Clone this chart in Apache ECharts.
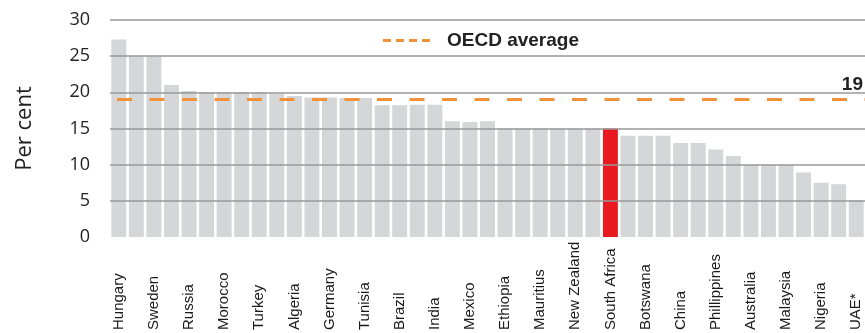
<!DOCTYPE html>
<html>
<head>
    <meta charset="UTF-8">
    <title>Per cent by country</title>
    <style>
        html, body { margin: 0; padding: 0; background: #fff; }
        #box { width: 865px; height: 333px; }
    </style>
    <script src="https://cdn.jsdelivr.net/npm/echarts@6/dist/echarts.min.js"></script>
</head>
<body>
<div id="box"></div>
<script>
    // categories: only every other bar is labelled in the source
    var countries = ['Hungary', '', 'Sweden', '', 'Russia', '', 'Morocco', '', 'Turkey', '', 'Algeria', '',
        'Germany', '', 'Tunisia', '', 'Brazil', '', 'India', '', 'Mexico', '', 'Ethiopia', '', 'Mauritius', '',
        'New Zealand', '', 'South Africa', '', 'Botswana', '', 'China', '', 'Phillippines', '', 'Australia', '',
        'Malaysia', '', 'Nigeria', '', 'UAE*'];
    var values = [27.3, 25, 25, 21, 20.2, 20, 20, 20, 20, 19.8, 19.5, 19.3,
        19.3, 19.2, 19.2, 18.2, 18.2, 18.3, 18.3, 16, 15.9, 16, 15, 15, 15, 15,
        15, 15, 15, 14, 14, 14, 13, 13, 12.1, 11.2, 10, 10,
        10, 8.9, 7.5, 7.3, 5.1];
    var highlight = 'South Africa';
    var oecdAverage = 19;
    var yTicks = [0, 5, 10, 15, 20, 25, 30];

    var barData = values.map(function (v, i) {
        return {
            value: v,
            itemStyle: { color: countries[i] === highlight ? '#E8191F' : '#D5D6D8' }
        };
    });

    var myChart = echarts.init(document.getElementById('box'));
    var option = {
        backgroundColor: '#fff',
        animation: false,
        grid: {
            left: 110,
            right: -6,   // last bar is cut at the edge
            top: 20,
            bottom: 94
        },
        legend: {
            left: 378,
            top: 26,
            itemWidth: 47,
            itemHeight: 3,
            data: [{
                name: 'OECD average',
                // four short dashes like the source key
                icon: 'path://M0,0h8v3h-8z M13,0h8v3h-8z M26,0h8v3h-8z M39,0h8v3h-8z'
            }],
            itemStyle: { color: '#F0923C' },
            textStyle: {
                fontFamily: 'Liberation Sans',
                fontSize: 19,
                fontWeight: 'bold',
                color: '#222',
                padding: [0, 0, 0, 12]
            }
        },
        xAxis: {
            type: 'category',
            data: countries,
            axisLine: { show: false },
            axisTick: { show: false },
            axisLabel: {
                interval: 0,
                rotate: 90,
                align: 'left',
                verticalAlign: 'middle',
                margin: 93,
                hideOverlap: false,
                fontFamily: 'Liberation Sans',
                fontSize: 15,
                color: '#1a1a1a'
            }
        },
        yAxis: {
            type: 'value',
            min: yTicks[0],
            max: yTicks[yTicks.length - 1],
            interval: 5,
            z: 5,   // grid lines sit on top of the bars
            name: 'Per cent',
            nameLocation: 'middle',
            nameGap: 74,
            nameTextStyle: { fontFamily: 'Open Sans', fontSize: 22, color: '#222' },
            axisLine: { show: false },
            axisTick: { show: false },
            axisLabel: {
                margin: 20,
                fontFamily: 'Open Sans',
                fontSize: 18,
                color: '#222'
            },
            splitLine: {
                showMinLine: false,
                lineStyle: { color: '#999', width: 1.5 }
            }
        },
        series: [
            {
                name: 'Per cent',
                type: 'bar',
                barCategoryGap: '15%',
                data: barData
            },
            {
                name: 'OECD average',
                type: 'line',
                symbol: 'none',
                data: [],
                lineStyle: { color: '#F0923C', width: 3, type: [15, 17.5] },
                itemStyle: { color: '#F0923C' },
                markLine: {
                    silent: true,
                    symbol: ['none', 'none'],
                    z: 10,
                    lineStyle: { color: '#F0923C', width: 3, type: [15, 17.5], dashOffset: 25.5 },
                    label: {
                        position: 'insideEndTop',
                        distance: [2, 5],
                        formatter: '{c}',
                        fontFamily: 'Liberation Sans',
                        fontSize: 19,
                        fontWeight: 'bold',
                        color: '#222'
                    },
                    data: [{ yAxis: oecdAverage }]
                }
            }
        ]
    };
    myChart.setOption(option);
</script>
</body>
</html>
